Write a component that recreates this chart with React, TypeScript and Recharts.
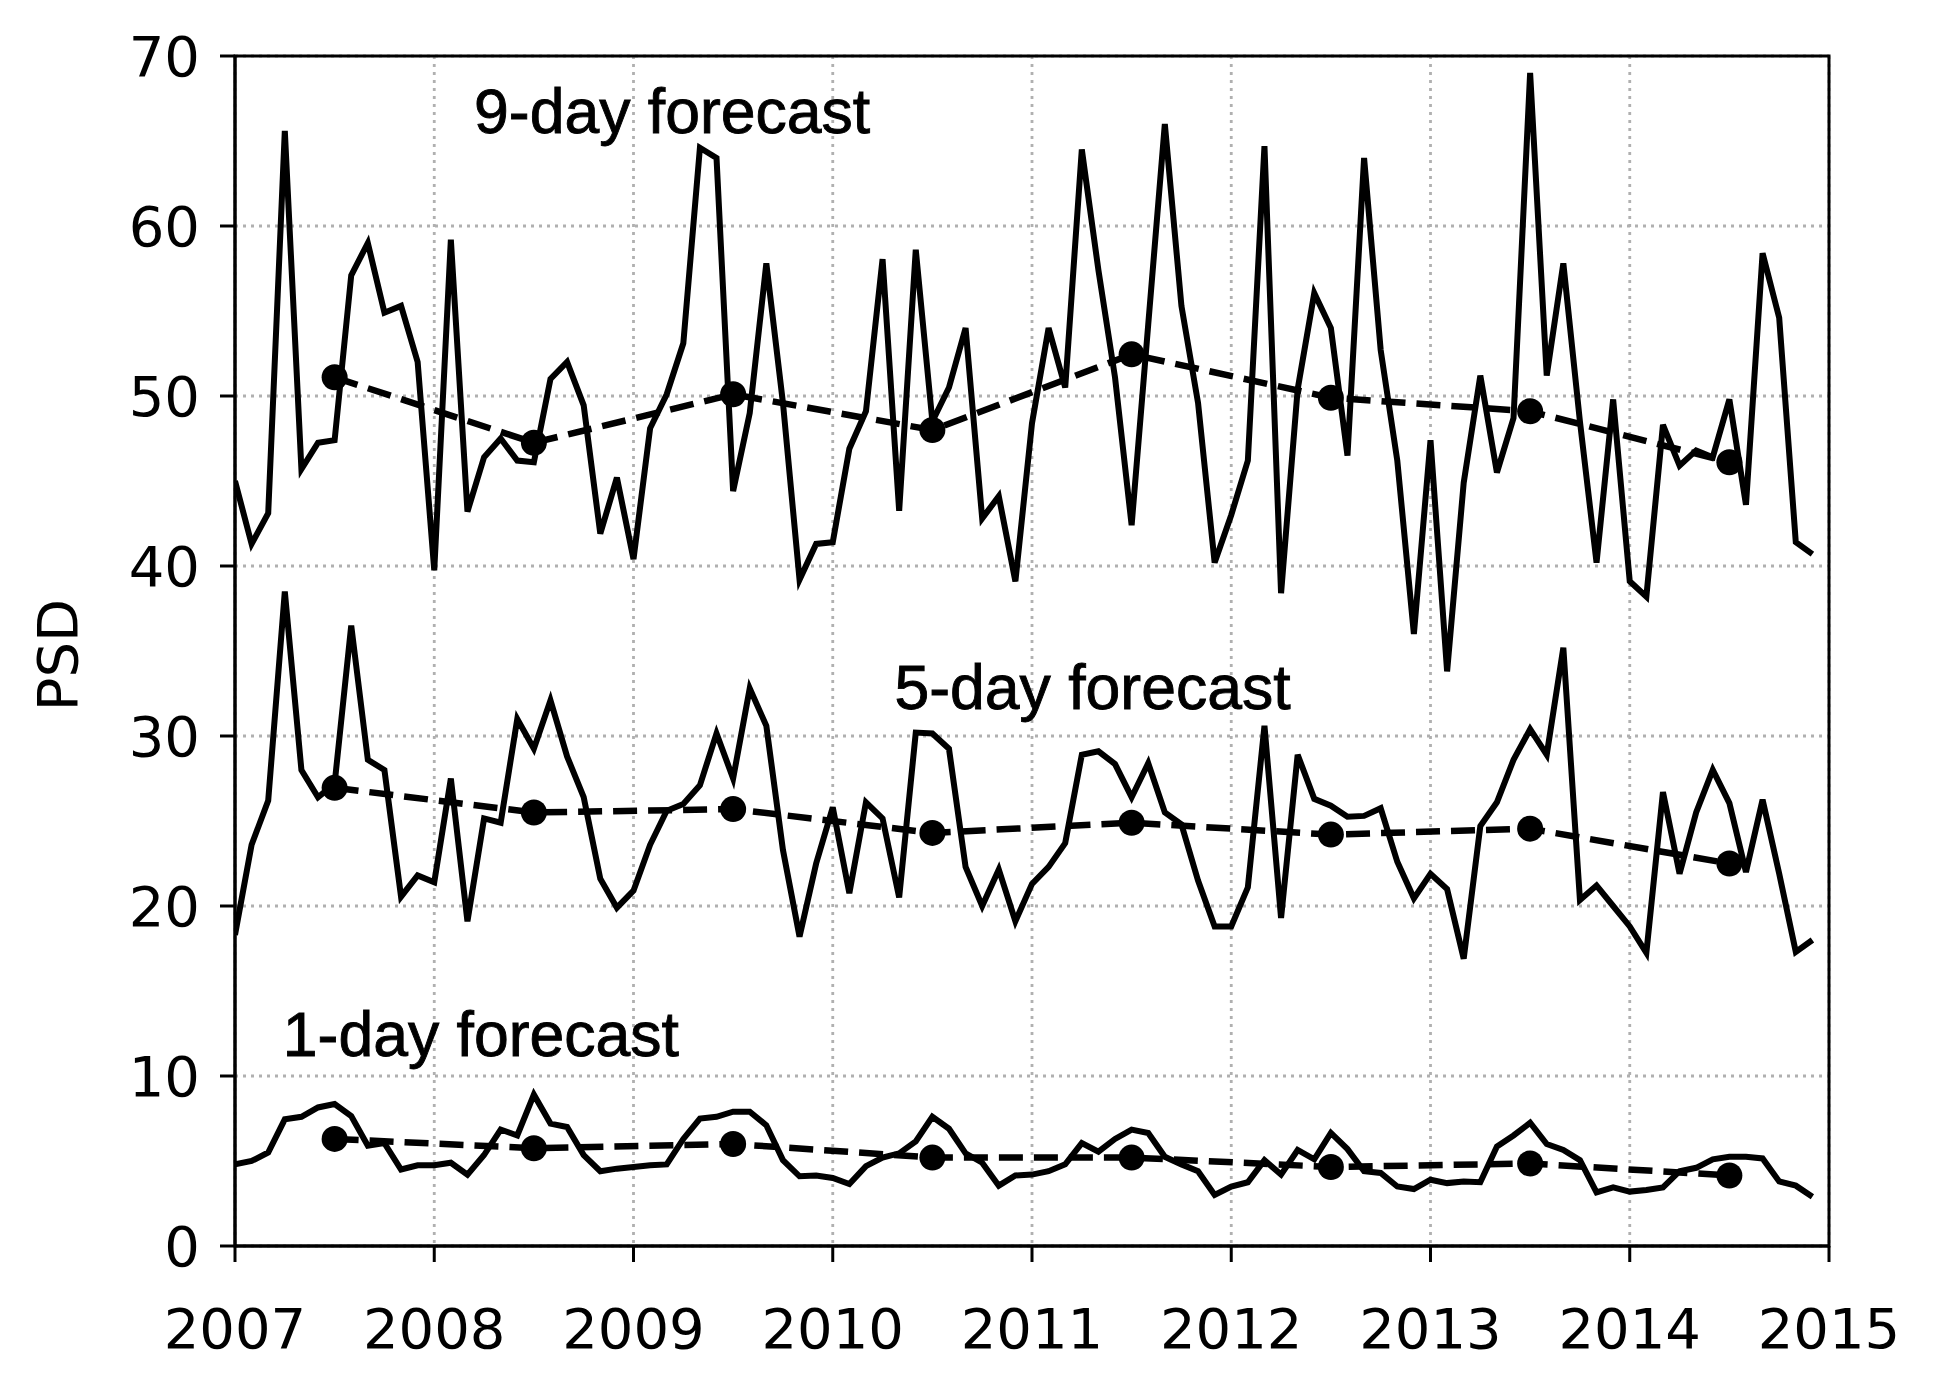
import React from 'react';
import { LineChart, Line, XAxis, YAxis, CartesianGrid, ReferenceArea, ReferenceDot } from 'recharts';

// Years covered (monthly values, January..December of each year)
const years = [2007, 2008, 2009, 2010, 2011, 2012, 2013, 2014];

// Monthly PSD, 1-day forecast
const psd1day = [
  4.8, 5.0, 5.5, 7.45, 7.6, 8.15, 8.35, 7.65, 5.9, 6.05, 4.5, 4.75,
  4.75, 4.9, 4.2, 5.35, 6.85, 6.5, 8.9, 7.2, 7.0, 5.35, 4.4, 4.55,
  4.65, 4.75, 4.8, 6.3, 7.5, 7.6, 7.9, 7.9, 7.1, 5.05, 4.1, 4.15,
  4.0, 3.65, 4.7, 5.2, 5.45, 6.15, 7.6, 6.9, 5.45, 4.9, 3.55, 4.15,
  4.2, 4.4, 4.8, 6.05, 5.55, 6.3, 6.85, 6.65, 5.25, 4.8, 4.4, 3.0,
  3.5, 3.75, 5.05, 4.2, 5.65, 5.1, 6.65, 5.7, 4.4, 4.3, 3.5, 3.35,
  3.9, 3.7, 3.8, 3.75, 5.85, 6.5, 7.25, 6.0, 5.65, 5.05, 3.15, 3.45,
  3.2, 3.3, 3.45, 4.4, 4.6, 5.1, 5.25, 5.25, 5.15, 3.8, 3.55, 2.9,
];

// Monthly PSD, 5-day forecast
const psd5day = [
  18.3, 23.6, 26.2, 38.5, 28.0, 26.4, 27.2, 36.5, 28.6, 28.0, 20.55, 21.8,
  21.4, 27.5, 19.1, 25.15, 24.9, 31.0, 29.25, 32.1, 28.8, 26.4, 21.6, 19.9,
  20.9, 23.6, 25.6, 26.0, 27.1, 30.15, 27.5, 32.8, 30.6, 23.3, 18.2, 22.5,
  25.8, 20.75, 26.1, 25.15, 20.5, 30.2, 30.15, 29.25, 22.3, 20.0, 22.15, 19.1,
  21.3, 22.3, 23.7, 28.9, 29.1, 28.35, 26.4, 28.4, 25.5, 24.8, 21.5, 18.8,
  18.8, 21.1, 30.6, 19.3, 28.9, 26.3, 25.9, 25.25, 25.3, 25.75, 22.6, 20.45,
  21.9, 21.0, 16.9, 24.7, 26.1, 28.6, 30.4, 28.9, 35.2, 20.35, 21.2, 20.0,
  18.8, 17.25, 26.7, 21.9, 25.5, 28.0, 26.05, 22.0, 26.25, 21.9, 17.3, 18.0,
];

// Monthly PSD, 9-day forecast
const psd9day = [
  45.0, 41.3, 43.1, 65.6, 45.7, 47.25, 47.4, 57.1, 59.0, 54.9, 55.3, 52.0,
  39.75, 59.2, 43.2, 46.4, 47.5, 46.2, 46.1, 51.0, 52.0, 49.45, 41.9, 45.2,
  40.4, 48.1, 50.1, 53.1, 64.6, 64.0, 44.4, 49.0, 57.8, 49.6, 39.2, 41.3,
  41.4, 46.9, 49.1, 58.05, 43.25, 58.6, 48.5, 50.5, 54.0, 42.8, 44.1, 39.1,
  48.4, 54.0, 50.5, 64.5, 57.4, 51.1, 42.4, 54.2, 66.0, 55.3, 49.6, 40.2,
  43.0, 46.2, 64.7, 38.4, 50.4, 56.05, 54.0, 46.5, 64.0, 52.7, 46.2, 36.0,
  47.4, 33.8, 44.9, 51.2, 45.5, 48.7, 69.0, 51.2, 57.8, 48.5, 40.2, 49.8,
  39.1, 38.2, 48.3, 45.9, 46.8, 46.4, 49.8, 43.6, 58.4, 54.6, 41.4, 40.7,
];

// Annual means (plotted mid-year)
const mean1day = [6.3, 5.75, 6.0, 5.2, 5.2, 4.65, 4.85, 4.15];
const mean5day = [26.95, 25.5, 25.7, 24.3, 24.9, 24.2, 24.55, 22.5];
const mean9day = [51.1, 47.25, 50.1, 48.0, 52.45, 49.9, 49.1, 46.1];

// Tick labels
const xTicks = [2007, 2008, 2009, 2010, 2011, 2012, 2013, 2014, 2015];
const yTicks = [0, 10, 20, 30, 40, 50, 60, 70];

// Annotations (anchored in data coordinates: x = year, y = PSD at text baseline)
const annotations = [
  { x: 2008.2, y: 65.5, text: '9-day forecast' },
  { x: 2010.31, y: 31.6, text: '5-day forecast' },
  { x: 2007.24, y: 11.2, text: '1-day forecast' },
];

const monthly = psd1day.map((v, i) => ({
  t: years[0] + i / 12,
  d1: v,
  d5: psd5day[i],
  d9: psd9day[i],
}));

const annual = years.map((y, i) => ({
  t: y + 0.5,
  m1: mean1day[i],
  m5: mean5day[i],
  m9: mean9day[i],
}));

const tickFont = { fontSize: 56, fontFamily: 'DejaVu Sans', fill: '#000' };

const AnnotationText = (props: any) => {
  const { viewBox, txt } = props;
  if (!viewBox) return null;
  return (
    <text
      x={viewBox.x + viewBox.width / 2}
      y={viewBox.y + viewBox.height / 2}
      fontFamily="'Liberation Sans', Arial, sans-serif"
      fontSize={62.5}
      fill="#000"
      stroke="#000"
      strokeWidth={0.9}
    >
      {txt}
    </text>
  );
};

const PsdLabel = (props: any) => {
  const { viewBox } = props;
  if (!viewBox) return null;
  const cx = viewBox.x;
  const cy = viewBox.y + viewBox.height / 2 + 4;
  return (
    <text
      x={cx}
      y={cy}
      transform={`rotate(-90, ${cx}, ${cy})`}
      textAnchor="middle"
      fontFamily="DejaVu Sans"
      fontSize={56}
      fill="#000"
    >
      PSD
    </text>
  );
};

const dashedDot = { r: 13, fill: '#000', stroke: 'none', strokeDasharray: '' };

export default function App() {
  return (
    <div style={{ width: 1922, height: 1371 }}>
      <LineChart width={1922} height={1371} margin={{ top: 48, right: 101, bottom: 8, left: 69 }}>
        <CartesianGrid stroke="#b0b0b0" strokeDasharray="3 5" strokeWidth={2.8} />
        <XAxis
          type="number"
          dataKey="t"
          domain={[2007, 2015]}
          ticks={xTicks}
          interval={0}
          allowDataOverflow
          height={125}
          tick={tickFont}
          tickSize={16}
          tickMargin={46}
          axisLine={{ stroke: '#000', strokeWidth: 3 }}
          tickLine={{ stroke: '#000', strokeWidth: 3 }}
        />
        <YAxis
          type="number"
          domain={[0, 70]}
          ticks={yTicks}
          interval={0}
          allowDataOverflow
          width={158}
          tick={tickFont}
          tickSize={15}
          tickMargin={20}
          axisLine={{ stroke: '#000', strokeWidth: 3 }}
          tickLine={{ stroke: '#000', strokeWidth: 3 }}
          label={<PsdLabel />}
        />
        <Line data={monthly} dataKey="d9" type="linear" stroke="#000" strokeWidth={6} dot={false} isAnimationActive={false} />
        <Line data={monthly} dataKey="d5" type="linear" stroke="#000" strokeWidth={6} dot={false} isAnimationActive={false} />
        <Line data={monthly} dataKey="d1" type="linear" stroke="#000" strokeWidth={6} dot={false} isAnimationActive={false} />
        <Line data={annual} dataKey="m9" type="linear" stroke="#000" strokeWidth={6.5} strokeDasharray="24 11" dot={dashedDot} isAnimationActive={false} />
        <Line data={annual} dataKey="m5" type="linear" stroke="#000" strokeWidth={6.5} strokeDasharray="24 11" dot={dashedDot} isAnimationActive={false} />
        <Line data={annual} dataKey="m1" type="linear" stroke="#000" strokeWidth={6.5} strokeDasharray="24 11" dot={dashedDot} isAnimationActive={false} />
        {annotations.map((a) => (
          <ReferenceDot
            key={a.text}
            x={a.x}
            y={a.y}
            r={1}
            fill="none"
            stroke="none"
            ifOverflow="visible"
            label={<AnnotationText txt={a.text} />}
          />
        ))}
        <ReferenceArea x1={2007} x2={2015} y1={0} y2={70} fill="none" stroke="#000" strokeWidth={3} ifOverflow="visible" />
      </LineChart>
    </div>
  );
}
